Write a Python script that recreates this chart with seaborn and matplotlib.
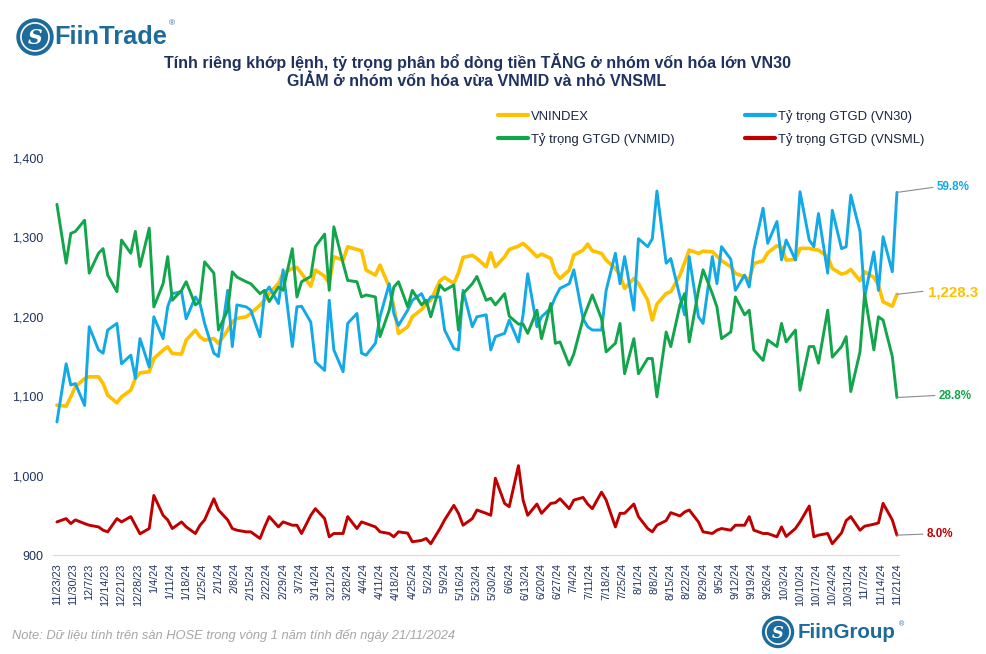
import numpy as np
import pandas as pd
import matplotlib
matplotlib.use('Agg')
import matplotlib.pyplot as plt
import matplotlib.patches as mpatches
import seaborn as sns

# du lieu doc tu hinh: moi diem cach nhau 2 phien giao dich
start, end = '2023-11-23', '2024-11-21'

vnindex = [1088.7, 1087.4, 1099.2, 1111.8, 1122.3, 1124.4, 1124.4, 1116.0, 1101.3, 1091.6,
           1099.2, 1107.6, 1122.3, 1129.4, 1130.7, 1147.5, 1158.0, 1162.2, 1153.8,
           1153.0, 1170.6, 1183.2, 1174.8, 1170.6, 1172.7, 1166.4, 1183.2, 1193.7, 1197.9,
           1200.0, 1204.2, 1214.7, 1221.0, 1229.4, 1242.0, 1254.6, 1260.9,
           1262.2, 1254.6, 1238.6, 1258.8, 1251.2, 1242.0, 1275.6, 1271.4, 1288.2, 1284.8,
           1283.2, 1258.8, 1252.5, 1265.1, 1237.8, 1212.6, 1179.0, 1187.4, 1200.0,
           1209.2, 1216.0, 1221.0, 1245.4, 1249.6, 1242.0, 1255.4, 1274.8, 1277.3, 1273.5,
           1263.0, 1280.6, 1263.0, 1275.6, 1284.8, 1289.0, 1292.4, 1287.4, 1275.6,
           1279.0, 1273.5, 1255.4, 1248.3, 1258.8, 1277.7, 1284.0, 1291.6, 1283.2, 1279.8,
           1271.4, 1260.9, 1252.5, 1235.7, 1248.3, 1242.0, 1221.0, 1195.8,
           1216.0, 1229.4, 1231.5, 1252.5, 1268.0, 1284.0, 1279.8, 1282.7, 1281.9, 1276.4,
           1270.6, 1263.0, 1254.6, 1250.4, 1246.2, 1267.2, 1270.6, 1280.6, 1289.5,
           1287.4, 1271.4, 1272.2, 1286.1, 1286.1, 1284.8, 1284.0, 1275.6, 1260.9, 1253.8,
           1255.4, 1259.6, 1245.4, 1256.7, 1249.6, 1240.0, 1218.9, 1213.4, 1228.3]

vn30 = [25.1, 33.9, 30.7, 30.9, 27.6, 39.5, 36.0, 35.5, 39.0, 40.0,
        33.9, 35.2, 31.7, 37.7, 33.4, 41.0, 37.7, 42.5, 44.5,
        44.8, 40.7, 44.0, 43.0, 40.0, 35.5, 35.0, 45.0, 36.5, 42.8,
        42.5, 42.0, 38.0, 44.5, 45.5, 43.0, 48.1, 36.5,
        42.5, 42.6, 40.2, 34.2, 32.9, 43.5, 36.0, 32.7, 40.0, 41.5,
        35.5, 35.2, 37.0, 41.0, 46.0, 41.5, 39.7, 42.0, 43.5,
        44.5, 43.0, 44.0, 44.0, 39.0, 36.2, 36.0, 45.0, 39.5, 41.0,
        41.3, 36.0, 38.0, 38.5, 40.5, 37.2, 41.3, 47.5, 39.5,
        41.0, 42.3, 44.0, 45.3, 46.0, 48.1, 40.7, 39.5, 39.0, 39.0,
        45.0, 50.6, 46.0, 50.1, 42.0, 52.8, 51.6, 52.8,
        60.0, 49.1, 49.8, 44.0, 41.3, 50.1, 41.0, 40.0, 50.1, 46.0,
        51.6, 49.7, 45.0, 47.3, 45.5, 51.1, 57.4, 52.1, 55.4,
        49.6, 52.6, 49.6, 59.9, 52.6, 51.6, 56.6, 47.6, 57.1, 51.3,
        51.6, 59.4, 53.9, 44.0, 50.8, 45.0, 53.1, 47.8, 59.8]

vnmid = [58.0, 49.1, 53.6, 53.9, 55.6, 47.6, 50.6, 51.3, 47.3, 44.8,
         52.6, 50.6, 53.9, 48.6, 54.4, 42.5, 46.0, 50.1, 43.5,
         45.0, 46.3, 42.8, 43.3, 49.3, 47.6, 39.0, 42.0, 47.8, 47.0,
         46.3, 46.0, 44.5, 45.0, 43.3, 45.5, 45.0, 51.3,
         44.0, 46.3, 47.1, 51.6, 53.5, 45.0, 54.6, 49.1, 46.5, 46.3,
         44.0, 44.3, 44.0, 38.0, 42.0, 45.5, 46.3, 42.5, 45.0,
         42.8, 43.5, 41.0, 45.8, 45.0, 45.8, 39.0, 44.5, 46.0, 47.1,
         43.5, 43.8, 42.8, 44.5, 41.1, 39.9, 39.9, 38.5, 42.0,
         37.7, 43.0, 37.0, 37.2, 33.7, 35.4, 40.7, 42.5, 44.3, 40.7,
         35.7, 37.0, 40.0, 32.4, 37.7, 32.4, 34.7, 34.7,
         28.9, 38.7, 36.5, 42.8, 44.5, 37.2, 45.0, 48.1, 44.5, 42.5,
         37.7, 38.7, 44.0, 41.3, 42.0, 36.0, 34.4, 37.5, 36.5,
         40.0, 37.2, 39.0, 29.9, 36.5, 36.5, 34.0, 42.0, 34.9, 36.5,
         38.0, 29.7, 35.7, 44.5, 36.0, 41.0, 40.5, 35.0, 28.8]

vnsml = [10.0, 10.5, 9.75, 10.3, 9.75, 9.5, 9.25, 8.75, 8.5, 10.5,
         10.0, 10.8, 9.5, 8.2, 9.0, 14.0, 11.0, 10.3, 9.0,
         10.0, 9.25, 8.25, 9.5, 10.3, 13.5, 11.8, 10.3, 9.0, 8.75,
         8.5, 8.5, 7.5, 9.25, 10.8, 9.25, 10.0, 9.5,
         9.5, 8.25, 11.0, 12.0, 10.5, 7.75, 8.25, 8.25, 10.8, 9.0,
         10.0, 9.75, 9.25, 8.5, 8.25, 7.75, 8.5, 8.3, 7.0,
         7.2, 7.5, 6.7, 9.0, 10.3, 12.5, 11.3, 9.5, 10.5, 11.8,
         11.3, 11.0, 16.6, 12.8, 12.3, 18.5, 13.3, 11.0, 12.7,
         11.3, 12.8, 12.9, 13.5, 12.0, 13.3, 13.7, 12.7, 12.0, 14.5,
         13.3, 9.25, 11.3, 11.3, 12.7, 10.8, 9.0, 8.5,
         9.5, 10.2, 11.4, 10.9, 11.5, 11.8, 10.0, 8.5, 8.25, 8.75,
         9.0, 8.75, 9.5, 9.5, 10.8, 8.75, 8.25, 8.25, 7.75,
         9.25, 7.8, 9.0, 10.0, 12.4, 7.75, 8.0, 8.25, 6.7, 8.35,
         10.2, 10.8, 8.75, 9.35, 9.65, 9.85, 12.8, 10.3, 8.0]

labels = ['VNINDEX', 'Tỷ trọng GTGD (VN30)', 'Tỷ trọng GTGD (VNMID)', 'Tỷ trọng GTGD (VNSML)']
yticks = [900, 1000, 1100, 1200, 1300, 1400]

dates = pd.bdate_range(start, end)[::2]
ticks = pd.date_range(start, end, freq='7D')
tick_labels = ['{}/{}/{}'.format(d.month, d.day, d.year % 100) for d in ticks]

df = pd.DataFrame({'date': dates, 'vnindex': vnindex, 'vn30': vn30,
                   'vnmid': vnmid, 'vnsml': vnsml})

colors = {'vnindex': '#FFC000', 'vn30': '#12A9E6', 'vnmid': '#13A54B', 'vnsml': '#C00000'}
navy = '#1F3160'

sns.set_style('white')
plt.rcParams['font.family'] = ['Liberation Sans', 'DejaVu Sans']

fig = plt.figure(figsize=(9.86, 6.54), dpi=100)
ax = fig.add_axes([53/986, 1-555/654, (899-53)/986, (555-158)/654])
ax2 = ax.twinx()

sns.lineplot(data=df, x='date', y='vnindex', ax=ax, color=colors['vnindex'], lw=2.6,
             label=labels[0], solid_joinstyle='round')
for key, lab in zip(['vn30', 'vnmid', 'vnsml'], labels[1:]):
    sns.lineplot(data=df, x='date', y=key, ax=ax2, color=colors[key], lw=2.1,
                 label=lab, solid_joinstyle='round')

ax.set_ylim(900, 1400)
ax2.set_ylim(5, 65)
ax.set_xlim(dates[0] - pd.Timedelta(days=1.7), dates[-1] + pd.Timedelta(days=0.9))
ax.set_yticks(yticks)
ax.set_yticklabels(['{:,}'.format(v) for v in yticks], fontsize=9, color=navy)
ax.set_xticks(ticks)
ax.set_xticklabels(tick_labels, rotation=90, fontsize=7.8, color=navy, va='top')
ax.tick_params(axis='both', length=0)
ax.tick_params(axis='x', pad=6)
ax.tick_params(axis='y', pad=7)
ax.set_xlabel('')
ax.set_ylabel('')
ax2.set_ylabel('')
ax2.set_yticks([])
for s in ['top', 'right', 'left']:
    ax.spines[s].set_visible(False)
for s in ax2.spines.values():
    s.set_visible(False)
ax.spines['bottom'].set_color('#D9D9D9')
ax.grid(False)
ax2.grid(False)

# legend
h1, l1 = ax.get_legend_handles_labels()
h2, l2 = ax2.get_legend_handles_labels()
ax.get_legend().remove()
ax2.get_legend().remove()
handles = [h1[0], h2[1], h2[0], h2[2]]
names = [l1[0], l2[1], l2[0], l2[2]]
leg = fig.legend(handles, names, ncol=2, loc='upper left', bbox_to_anchor=(498/986, 1-110/654),
                 frameon=False, fontsize=9.4, handlelength=2.3, handletextpad=0.25,
                 columnspacing=5.35, labelspacing=0.75, borderpad=0, borderaxespad=0,
                 labelcolor='#1A2440')
for line in leg.get_lines():
    line.set_linewidth(3.0)

# nhan cuoi duong
last = dates[-1]
grey = '#8C8C8C'
ax.annotate('', xy=(last, vnindex[-1]), xytext=(26, 3), textcoords='offset pixels',
            arrowprops=dict(arrowstyle='-', color=grey, lw=0.8, shrinkA=0, shrinkB=0))
ax.annotate('{:,.1f}'.format(vnindex[-1]), xy=(last, vnindex[-1]), xytext=(31, 2),
            textcoords='offset pixels', ha='left', va='center', fontsize=10.8,
            fontweight='bold', color=colors['vnindex'])
for key, dx, dy in [('vn30', 36, 5), ('vnmid', 38, 2), ('vnsml', 26, 1)]:
    v = df[key].iloc[-1]
    ax2.annotate('', xy=(last, v), xytext=(dx, dy), textcoords='offset pixels',
                 arrowprops=dict(arrowstyle='-', color=grey, lw=0.8, shrinkA=0, shrinkB=0))
    ax2.annotate('{:.1f}%'.format(v), xy=(last, v), xytext=(dx + 4, dy),
                 textcoords='offset pixels', ha='left', va='center', fontsize=8.4,
                 fontweight='bold', color=colors[key])

# tieu de
fig.text(477/986, 1-71/654,
         'Tính riêng khớp lệnh, tỷ trọng phân bổ dòng tiền TĂNG ở nhóm vốn hóa lớn VN30\n'
         'GIẢM ở nhóm vốn hóa vừa VNMID và nhỏ VNSML',
         ha='center', va='center', fontsize=11.5, fontweight='bold', color=navy,
         linespacing=1.15)

fig.text(12/986, 1-636/654,
         'Note: Dữ liệu tính trên sàn HOSE trong vòng 1 năm tính đến ngày 21/11/2024',
         ha='left', va='center', fontsize=9.3, style='italic', color='#A6A6A6')

# logo
ov = fig.add_axes([0, 0, 1, 1], zorder=-1)
ov.set_xlim(0, 986)
ov.set_ylim(654, 0)
ov.axis('off')
logo_blue = '#1D6B9A'


def logo(cx, cy, r, text, tx, size):
    ov.add_patch(mpatches.Circle((cx, cy), r, color=logo_blue))
    ov.add_patch(mpatches.Circle((cx, cy), r * 0.78, fill=False, ec='white', lw=1.2))
    ov.text(cx, cy + 1, 'S', ha='center', va='center', color='white',
            fontsize=size * 0.8, fontweight='bold', family='DejaVu Serif', style='italic')
    t = ov.text(tx, cy, text, ha='left', va='center', color=logo_blue,
                fontsize=size, fontweight='bold')
    return t


logo(35, 37, 18, 'FiinTrade', 54, 18.3)
ov.text(169, 24, '®', fontsize=6, color=logo_blue, ha='left', va='center')
logo(778, 632, 15.5, 'FiinGroup', 798, 14.8)
ov.text(899, 625, '®', fontsize=5, color=logo_blue, ha='left', va='center')

fig.savefig('out.png', dpi=100)
